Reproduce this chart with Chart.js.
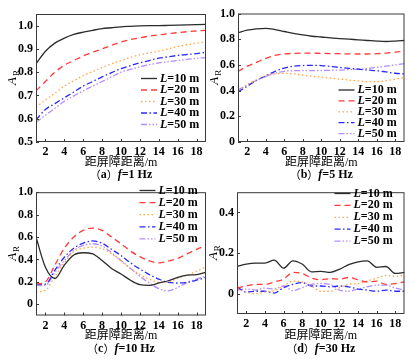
<!DOCTYPE html>
<html>
<head>
<meta charset="utf-8">
<script src="https://cdn.jsdelivr.net/npm/chart.js@4.4.0/dist/chart.umd.min.js"></script>
<style>
  body { margin: 0; background: #fff; width: 419px; height: 364px; position: relative; overflow: hidden; }
  canvas { position: absolute; }
</style>
</head>
<body>
<canvas id="pa" width="210" height="182" style="left:0;top:0"></canvas>
<canvas id="pb" width="214" height="182" style="left:205px;top:0"></canvas>
<canvas id="pc" width="210" height="182" style="left:0;top:182px"></canvas>
<canvas id="pd" width="214" height="182" style="left:205px;top:182px"></canvas>
<script>
// distance from the barrier (m)
const distances = [1, 2, 3, 4, 5, 6, 7, 8, 9, 10, 11, 12, 13, 14, 15, 16, 17, 18, 19];
const xTicks = [2, 4, 6, 8, 10, 12, 14, 16, 18];
const lengths = ['10', '20', '30', '40', '50'];

// (a) f = 1 Hz
const a10 = [0.836, 0.89, 0.925, 0.946, 0.962, 0.972, 0.98, 0.987, 0.991, 0.995, 0.997, 0.999, 1.0, 1.0, 1.001, 1.002, 1.003, 1.004, 1.005];
const a20 = [0.72, 0.76, 0.80, 0.83, 0.85, 0.87, 0.886, 0.90, 0.915, 0.93, 0.94, 0.948, 0.955, 0.96, 0.965, 0.97, 0.974, 0.977, 0.98];
const a30 = [0.65, 0.68, 0.71, 0.74, 0.763, 0.785, 0.803, 0.82, 0.836, 0.85, 0.863, 0.875, 0.883, 0.89, 0.90, 0.91, 0.918, 0.925, 0.93];
const a40 = [0.595, 0.64, 0.665, 0.69, 0.715, 0.74, 0.76, 0.78, 0.798, 0.815, 0.828, 0.84, 0.85, 0.86, 0.866, 0.872, 0.876, 0.88, 0.885];
const a50 = [0.585, 0.615, 0.645, 0.675, 0.698, 0.72, 0.74, 0.76, 0.78, 0.80, 0.812, 0.823, 0.832, 0.84, 0.845, 0.85, 0.855, 0.86, 0.862];
const aTicks = [0.5, 0.6, 0.7, 0.8, 0.9, 1.0];

// (b) f = 5 Hz
const b10 = [0.85, 0.87, 0.88, 0.885, 0.875, 0.86, 0.845, 0.833, 0.823, 0.817, 0.81, 0.805, 0.80, 0.795, 0.79, 0.785, 0.782, 0.785, 0.79];
const b20 = [0.55, 0.59, 0.62, 0.65, 0.675, 0.685, 0.69, 0.692, 0.692, 0.69, 0.688, 0.687, 0.686, 0.685, 0.685, 0.687, 0.692, 0.70, 0.705];
const b30 = [0.40, 0.445, 0.483, 0.515, 0.53, 0.535, 0.53, 0.52, 0.512, 0.505, 0.497, 0.49, 0.482, 0.475, 0.47, 0.47, 0.477, 0.49, 0.50];
const b40 = [0.39, 0.435, 0.48, 0.515, 0.55, 0.575, 0.59, 0.595, 0.597, 0.595, 0.588, 0.58, 0.573, 0.567, 0.56, 0.555, 0.545, 0.535, 0.53];
const b50 = [0.405, 0.445, 0.48, 0.51, 0.535, 0.55, 0.555, 0.556, 0.556, 0.556, 0.558, 0.56, 0.563, 0.567, 0.572, 0.58, 0.59, 0.60, 0.61];
const bTicks = [0, 0.2, 0.4, 0.6, 0.8, 1.0];

// (c) f = 10 Hz
const c10 = [0.6, 0.33, 0.23, 0.35, 0.44, 0.46, 0.45, 0.39, 0.32, 0.27, 0.215, 0.175, 0.168, 0.19, 0.21, 0.24, 0.26, 0.265, 0.285];
const c20 = [0.18, 0.2, 0.35, 0.5, 0.6, 0.66, 0.68, 0.66, 0.6, 0.54, 0.475, 0.425, 0.387, 0.37, 0.385, 0.41, 0.45, 0.49, 0.525];
const c30 = [0.11, 0.125, 0.25, 0.37, 0.47, 0.5, 0.51, 0.495, 0.45, 0.385, 0.32, 0.265, 0.225, 0.195, 0.2, 0.23, 0.26, 0.295, 0.335];
const c40 = [0.18, 0.18, 0.305, 0.42, 0.5, 0.545, 0.565, 0.545, 0.49, 0.435, 0.37, 0.315, 0.265, 0.225, 0.195, 0.19, 0.195, 0.215, 0.24];
const c50 = [0.17, 0.17, 0.285, 0.39, 0.48, 0.525, 0.54, 0.52, 0.46, 0.39, 0.32, 0.25, 0.19, 0.14, 0.12, 0.15, 0.195, 0.225, 0.25];
const cTicks = [0, 0.2, 0.4, 0.6, 0.8, 1.0];

// (d) f = 30 Hz
const d10 = [0.134, 0.146, 0.151, 0.151, 0.165, 0.126, 0.162, 0.146, 0.108, 0.11, 0.105, 0.12, 0.143, 0.157, 0.162, 0.13, 0.134, 0.10, 0.105];
const d20 = [0.028, 0.038, 0.046, 0.046, 0.058, 0.072, 0.105, 0.10, 0.077, 0.069, 0.074, 0.072, 0.08, 0.069, 0.058, 0.062, 0.046, 0.05, 0.058];
const d30 = [0.023, 0.008, 0.0, 0.008, 0.015, 0.038, 0.062, 0.058, 0.038, 0.012, 0.012, 0.03, 0.046, 0.05, 0.062, 0.077, 0.09, 0.085, 0.092];
const d40 = [0.034, 0.008, 0.012, 0.012, 0.003, 0.03, 0.046, 0.055, 0.038, 0.038, 0.034, 0.038, 0.034, 0.023, 0.018, 0.012, 0.018, 0.012, 0.012];
const d50 = [0.018, 0.023, 0.018, 0.028, 0.023, 0.038, 0.015, 0.03, 0.046, 0.05, 0.046, 0.018, 0.012, 0.023, 0.034, 0.042, 0.042, 0.028, 0.018];
const dTicks = [0, 0.2, 0.4];

// line styles for L = 10..50 m
const styles = [
  { color: '#2b2b2b', dash: [] },
  { color: '#ff3b3b', dash: [6, 4] },
  { color: '#ffa64d', dash: [1.5, 2.5] },
  { color: '#2a2aff', dash: [6, 2.5, 1.5, 2.5] },
  { color: '#b58cff', dash: [6, 2, 1.5, 2, 1.5, 2] }
];

const SERIF = '"Liberation Serif", "Times New Roman", serif';
const CJK = '"Liberation Serif", "Noto Sans CJK SC", serif';

// draws frame, inward ticks, y title, legend, x title and caption
const panelDeco = {
  id: 'panelDeco',
  afterDraw(chart, args, o) {
    const ctx = chart.ctx;
    const ca = chart.chartArea;
    const xs = chart.scales.x, ys = chart.scales.y;
    ctx.save();

    ctx.strokeStyle = '#3a3a3a';
    ctx.lineWidth = 1;
    ctx.setLineDash([]);
    ctx.strokeRect(ca.left + 0.5, ca.top + 0.5, ca.right - ca.left - 1, ca.bottom - ca.top - 1);
    ctx.beginPath();
    xs.ticks.forEach(t => {
      const px = Math.round(xs.getPixelForValue(t.value)) + 0.5;
      ctx.moveTo(px, ca.bottom); ctx.lineTo(px, ca.bottom - 3);
    });
    ys.ticks.forEach(t => {
      const py = Math.round(ys.getPixelForValue(t.value)) + 0.5;
      ctx.moveTo(ca.left, py); ctx.lineTo(ca.left + 3, py);
    });
    ctx.stroke();

    // y title A_R
    ctx.fillStyle = '#000';
    ctx.translate(ca.left - 23, (ca.top + ca.bottom) / 2);
    ctx.rotate(-Math.PI / 2);
    ctx.font = 'italic 13px ' + SERIF;
    const wA = ctx.measureText('A').width;
    ctx.textBaseline = 'middle';
    ctx.textAlign = 'left';
    ctx.fillText('A', -wA / 2 - 3, 0);
    ctx.font = '9px ' + SERIF;
    ctx.fillText('R', wA / 2 - 2, 4);
    ctx.setTransform(1, 0, 0, 1, 0, 0);

    // legend
    chart.data.datasets.forEach((ds, i) => {
      const y = o.legY + i * o.legStep;
      ctx.strokeStyle = ds.borderColor;
      ctx.lineWidth = 1.3;
      ctx.setLineDash(ds.borderDash);
      ctx.beginPath();
      ctx.moveTo(o.legX, y); ctx.lineTo(o.legX + 16, y);
      ctx.stroke();
      ctx.setLineDash([]);
      ctx.fillStyle = '#000';
      ctx.textBaseline = 'middle';
      ctx.textAlign = 'left';
      let tx = o.legX + 19;
      ctx.font = 'italic bold 12px ' + SERIF;
      ctx.fillText('L', tx, y);
      tx += ctx.measureText('L').width;
      ctx.font = 'bold 12px ' + SERIF;
      ctx.fillText('=' + lengths[i] + ' m', tx, y);
    });

    // x title
    const cx = (ca.left + ca.right) / 2;
    ctx.font = '12px ' + CJK;
    ctx.textAlign = 'center';
    ctx.textBaseline = 'middle';
    ctx.fillText('距屏障距离/m', cx, o.titleY);

    // caption
    const parts = [
      ['（', '11px "Noto Sans CJK SC"'],
      [o.letter, 'bold 12px ' + SERIF],
      ['）', '11px "Noto Sans CJK SC"'],
      ['f', 'italic bold 12px ' + SERIF],
      ['=' + o.freq, 'bold 12px ' + SERIF]
    ];
    let total = 0;
    parts.forEach(p => { ctx.font = p[1]; total += ctx.measureText(p[0]).width; });
    let px = cx - total / 2;
    ctx.textAlign = 'left';
    parts.forEach(p => {
      ctx.font = p[1];
      ctx.fillText(p[0], px, o.capY);
      px += ctx.measureText(p[0]).width;
    });
    ctx.restore();
  }
};

function fmtY(v) {
  return v === 0 ? '0' : v.toFixed(1);
}

function makePanel(id, series, yMin, yMax, yTicks, box, deco) {
  new Chart(document.getElementById(id), {
    type: 'line',
    data: {
      labels: distances,
      datasets: series.map((vals, i) => ({
        label: 'L=' + lengths[i] + ' m',
        data: vals.map((v, k) => ({ x: distances[k], y: v })),
        borderColor: styles[i].color,
        borderDash: styles[i].dash,
        borderWidth: 1.3,
        pointRadius: 0,
        cubicInterpolationMode: 'monotone',
        fill: false
      }))
    },
    options: {
      responsive: false,
      animation: false,
      layout: { padding: { left: 0, right: box.right, top: box.top, bottom: 0 } },
      plugins: { legend: { display: false }, tooltip: { enabled: false }, panelDeco: deco },
      scales: {
        x: {
          type: 'linear',
          min: 1, max: 19,
          grid: { display: false, drawTicks: false },
          border: { display: false },
          afterBuildTicks: s => { s.ticks = xTicks.map(v => ({ value: v })); },
          afterFit: s => { s.height = box.xh; },
          ticks: { color: '#000', padding: 3, maxRotation: 0, font: { family: SERIF, size: 12, weight: 'bold' } }
        },
        y: {
          min: yMin, max: yMax,
          grid: { display: false, drawTicks: false },
          border: { display: false },
          afterBuildTicks: s => { s.ticks = yTicks.map(v => ({ value: v })); },
          afterFit: s => { s.width = box.yw; },
          ticks: { color: '#000', padding: 3, callback: v => fmtY(v), font: { family: SERIF, size: 12, weight: 'bold' } }
        }
      }
    },
    plugins: [panelDeco]
  });
}

makePanel('pa', [a10, a20, a30, a40, a50], 0.5, 1.05, aTicks,
  { right: 4, top: 14, xh: 40, yw: 36 },
  { legX: 141, legY: 78.5, legStep: 11.5, titleY: 163, capY: 175, letter: 'a', freq: '1 Hz' });
makePanel('pb', [b10, b20, b30, b40, b50], 0, 1.0, bTicks,
  { right: 14.5, top: 13.5, xh: 40, yw: 33 },
  { legX: 133.5, legY: 90, legStep: 10.9, titleY: 163, capY: 175, letter: 'b', freq: '5 Hz' });
makePanel('pc', [c10, c20, c30, c40, c50], -0.1, 1.0, cTicks,
  { right: 4, top: 2, xh: 48.5, yw: 36 },
  { legX: 139.5, legY: 8.5, legStep: 12.1, titleY: 154, capY: 167, letter: 'c', freq: '10 Hz' });
makePanel('pd', [d10, d20, d30, d40, d50], -0.1, 0.5, dTicks,
  { right: 14.5, top: 3, xh: 50, yw: 32 },
  { legX: 129.5, legY: 11.5, legStep: 11.9, titleY: 154, capY: 167, letter: 'd', freq: '30 Hz' });
</script>
</body>
</html>
